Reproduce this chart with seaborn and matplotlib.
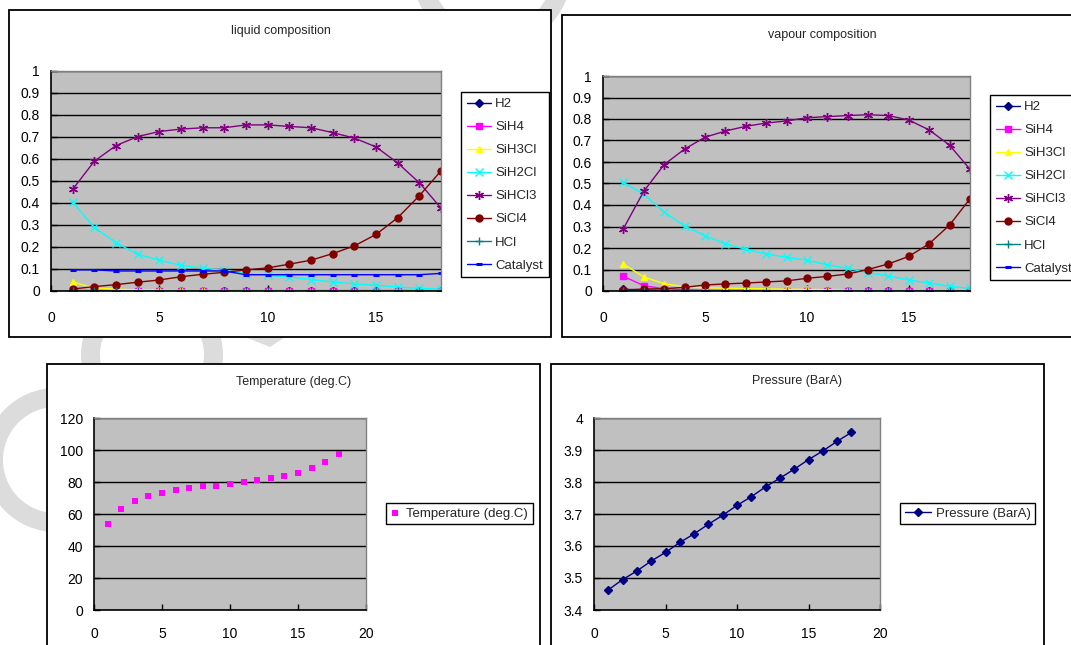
import matplotlib
matplotlib.use("Agg")
import matplotlib.pyplot as plt
from matplotlib.patches import Rectangle, Wedge, Polygon
from matplotlib.transforms import IdentityTransform
from matplotlib.ticker import MultipleLocator, FormatStrFormatter
import seaborn as sns

# --- data ---
stage = [1, 2, 3, 4, 5, 6, 7, 8, 9, 10, 11, 12, 13, 14, 15, 16, 17, 18]
components = ['H2', 'SiH4', 'SiH3Cl', 'SiH2Cl', 'SiHCl3', 'SiCl4', 'HCl', 'Catalyst']

liq_h2 = [0.001, 0.0, 0.0, 0.0, 0.0, 0.0, 0.0, 0.0, 0.0, 0.0, 0.0, 0.0, 0.0, 0.0, 0.0, 0.0, 0.0, 0.0]
liq_sih4 = [0.003, 0.002, 0.002, 0.002, 0.002, 0.002, 0.002, 0.002, 0.002, 0.002, 0.002, 0.002, 0.002, 0.002, 0.002, 0.002, 0.002, 0.002]
liq_sih3cl = [0.041, 0.014, 0.008, 0.005, 0.004, 0.003, 0.003, 0.002, 0.002, 0.002, 0.002, 0.002, 0.001, 0.001, 0.001, 0.001, 0.001, 0.001]
liq_sih2cl = [0.403, 0.289, 0.219, 0.167, 0.140, 0.117, 0.103, 0.094, 0.079, 0.071, 0.064, 0.052, 0.041, 0.032, 0.026, 0.018, 0.012, 0.008]
liq_sihcl3 = [0.462, 0.590, 0.661, 0.702, 0.725, 0.736, 0.742, 0.742, 0.755, 0.755, 0.748, 0.742, 0.720, 0.695, 0.655, 0.582, 0.492, 0.377]
liq_sicl4 = [0.009, 0.020, 0.029, 0.040, 0.050, 0.065, 0.076, 0.085, 0.096, 0.105, 0.122, 0.140, 0.170, 0.205, 0.257, 0.333, 0.433, 0.546]
liq_hcl = [0.001, 0.0, 0.0, 0.0, 0.0, 0.0, 0.0, 0.0, 0.0, 0.0, 0.0, 0.0, 0.0, 0.0, 0.0, 0.0, 0.0, 0.0]
liq_cat = [0.096, 0.096, 0.091, 0.091, 0.091, 0.091, 0.091, 0.091, 0.074, 0.074, 0.074, 0.074, 0.074, 0.074, 0.074, 0.074, 0.074, 0.080]

vap_h2 = [0.008, 0.004, 0.002, 0.002, 0.001, 0.001, 0.001, 0.001, 0.001, 0.001, 0.001, 0.001, 0.001, 0.001, 0.001, 0.001, 0.001, 0.001]
vap_sih4 = [0.068, 0.025, 0.010, 0.006, 0.004, 0.003, 0.003, 0.002, 0.002, 0.002, 0.002, 0.001, 0.001, 0.001, 0.001, 0.001, 0.001, 0.001]
vap_sih3cl = [0.126, 0.065, 0.034, 0.020, 0.015, 0.013, 0.012, 0.010, 0.008, 0.007, 0.006, 0.003, 0.002, 0.002, 0.002, 0.001, 0.001, 0.001]
vap_sih2cl = [0.505, 0.451, 0.367, 0.302, 0.257, 0.220, 0.194, 0.172, 0.157, 0.143, 0.122, 0.105, 0.085, 0.070, 0.051, 0.037, 0.022, 0.012]
vap_sihcl3 = [0.290, 0.464, 0.588, 0.660, 0.715, 0.744, 0.766, 0.781, 0.791, 0.806, 0.811, 0.816, 0.820, 0.816, 0.795, 0.749, 0.678, 0.566]
vap_sicl4 = [0.005, 0.009, 0.011, 0.017, 0.028, 0.033, 0.037, 0.042, 0.047, 0.059, 0.068, 0.079, 0.100, 0.126, 0.161, 0.220, 0.307, 0.429]
vap_hcl = [0.002, 0.001, 0.0, 0.0, 0.0, 0.0, 0.0, 0.0, 0.0, 0.0, 0.0, 0.0, 0.0, 0.0, 0.0, 0.0, 0.0, 0.0]
vap_cat = [0.0, 0.0, 0.0, 0.0, 0.0, 0.0, 0.0, 0.0, 0.0, 0.0, 0.0, 0.0, 0.0, 0.0, 0.0, 0.0, 0.0, 0.0]

temperature = [53.9, 63.0, 68.0, 71.0, 72.9, 74.7, 76.0, 77.2, 77.2, 78.5, 79.7, 81.0, 82.2, 83.9, 85.8, 88.9, 92.5, 97.3]
pressure = [3.463, 3.495, 3.522, 3.553, 3.580, 3.611, 3.638, 3.668, 3.696, 3.727, 3.754, 3.785, 3.812, 3.840, 3.870, 3.897, 3.927, 3.955]

liquid = [liq_h2, liq_sih4, liq_sih3cl, liq_sih2cl, liq_sihcl3, liq_sicl4, liq_hcl, liq_cat]
vapour = [vap_h2, vap_sih4, vap_sih3cl, vap_sih2cl, vap_sihcl3, vap_sicl4, vap_hcl, vap_cat]

# excel 2003 style series formats
colors = ['#000080', '#FF00FF', '#FFFF00', '#00FFFF', '#800080', '#800000', '#008080', '#0000FF']
markers = ['D', 's', '^', 'x', (6, 2, 0), 'o', '+', '_']
msizes = [4, 4, 5, 5.5, 6.5, 5, 6, 4]

# --- figure setup ---
sns.set_theme(style="white")
plt.rcParams['font.family'] = ['Liberation Sans', 'DejaVu Sans']
W, H = 1071, 645
fig = plt.figure(figsize=(W / 100, H / 100), dpi=100)
fig.patch.set_facecolor('white')
FS = 9.5
TICK_FS = 10


def fig_rect(x0, y0, x1, y1):
    return [x0 / W, 1 - y1 / H, (x1 - x0) / W, (y1 - y0) / H]


# faint watermark rings behind the charts
wm = '#DCDCDC'
for cx, cy, ro, ri in [(56, 460, 72, 53), (152, 355, 71, 52), (492, -30, 80, 61)]:
    fig.add_artist(Wedge((cx, H - cy), ro, 0, 360, width=ro - ri, facecolor=wm,
                         edgecolor='none', transform=IdentityTransform(), zorder=-3))
fig.add_artist(Polygon([(245, H - 337), (285, H - 337), (270, H - 347)], closed=True,
                       facecolor=wm, edgecolor='none', transform=IdentityTransform(), zorder=-3))

# chart area frames
for x0, y0, x1, y1 in [(9, 10, 551, 337), (562, 15, 1090, 337), (47, 364, 540, 660), (551, 364, 1044, 660)]:
    fig.add_artist(Rectangle((x0, H - y1), x1 - x0, y1 - y0, facecolor='white', edgecolor='black',
                             linewidth=1.3, transform=IdentityTransform(), zorder=-2))


def style_axes(ax, xpad):
    ax.set_facecolor('#C0C0C0')
    ax.grid(axis='y', color='black', linewidth=1)
    ax.grid(axis='x', visible=False)
    ax.set_axisbelow(True)
    for side in ['left', 'bottom']:
        ax.spines[side].set_color('black')
        ax.spines[side].set_linewidth(1.2)
    for side in ['top', 'right']:
        ax.spines[side].set_color('#808080')
        ax.spines[side].set_linewidth(1)
    ax.tick_params(axis='both', direction='in', length=4, width=1, colors='black', labelsize=TICK_FS)
    ax.tick_params(axis='y', pad=8, left=True)
    ax.tick_params(axis='x', pad=xpad, bottom=True)
    ax.set_xlabel('')
    ax.set_ylabel('')


def legend_at(ax, x, y, **kw):
    leg = ax.legend(loc='upper left', bbox_to_anchor=(x / W, 1 - y / H), bbox_transform=fig.transFigure,
                    borderaxespad=0, fontsize=FS, fancybox=False, shadow=False, framealpha=1,
                    edgecolor='black', **kw)
    leg.get_frame().set_linewidth(1)
    return leg


# --- composition charts ---
comp_specs = [
    (liquid, fig_rect(51, 71, 441, 291), 'liquid composition', 281, 31, (461, 92)),
    (vapour, fig_rect(603, 76, 970, 291), 'vapour composition', 822, 35, (990, 95)),
]
for series, rect, title, tx, ty, (lx, ly) in comp_specs:
    ax = fig.add_axes(rect)
    for name, vals, c, m, ms in zip(components, series, colors, markers, msizes):
        mew = 2.2 if m == '_' else 1
        sns.lineplot(x=stage, y=vals, ax=ax, color=c, marker=m, markersize=ms,
                     markeredgecolor=c, markerfacecolor=c, markeredgewidth=mew,
                     linewidth=1, label=name, errorbar=None)
    ax.set_xlim(0, 18)
    ax.set_ylim(0, 1)
    ax.xaxis.set_major_locator(MultipleLocator(5))
    ax.yaxis.set_major_locator(MultipleLocator(0.1))
    ax.yaxis.set_major_formatter(FormatStrFormatter('%g'))
    style_axes(ax, 14.5)
    legend_at(ax, lx, ly, handlelength=1.8, handletextpad=0.35, labelspacing=0.82, borderpad=0.45)
    fig.text(tx / W, 1 - ty / H, title, ha='center', va='center', fontsize=9)

# --- temperature ---
ax_t = fig.add_axes(fig_rect(94, 418, 366, 610))
sns.scatterplot(x=stage, y=temperature, ax=ax_t, marker='s', color='#FF00FF', s=22,
                linewidth=0, label='Temperature (deg.C)')
ax_t.set_xlim(0, 20)
ax_t.set_ylim(0, 120)
ax_t.xaxis.set_major_locator(MultipleLocator(5))
ax_t.yaxis.set_major_locator(MultipleLocator(20))
style_axes(ax_t, 12)
legend_at(ax_t, 386, 503, handlelength=0.7, handletextpad=0.5, borderpad=0.35)
fig.text(294 / W, 1 - 382 / H, 'Temperature (deg.C)', ha='center', va='center', fontsize=9)

# --- pressure ---
ax_p = fig.add_axes(fig_rect(594, 418, 880, 610))
sns.lineplot(x=stage, y=pressure, ax=ax_p, color='#000080', marker='D', markersize=4,
             markeredgecolor='#000080', markeredgewidth=1, linewidth=1,
             label='Pressure (BarA)', errorbar=None)
ax_p.set_xlim(0, 20)
ax_p.set_ylim(3.4, 4.0)
ax_p.xaxis.set_major_locator(MultipleLocator(5))
ax_p.yaxis.set_major_locator(MultipleLocator(0.1))
ax_p.yaxis.set_major_formatter(FormatStrFormatter('%g'))
style_axes(ax_p, 12)
legend_at(ax_p, 900, 503, handlelength=2.0, handletextpad=0.35, borderpad=0.35)
fig.text(797 / W, 1 - 381 / H, 'Pressure (BarA)', ha='center', va='center', fontsize=9)

fig.savefig('out.png', dpi=100, facecolor='white')
